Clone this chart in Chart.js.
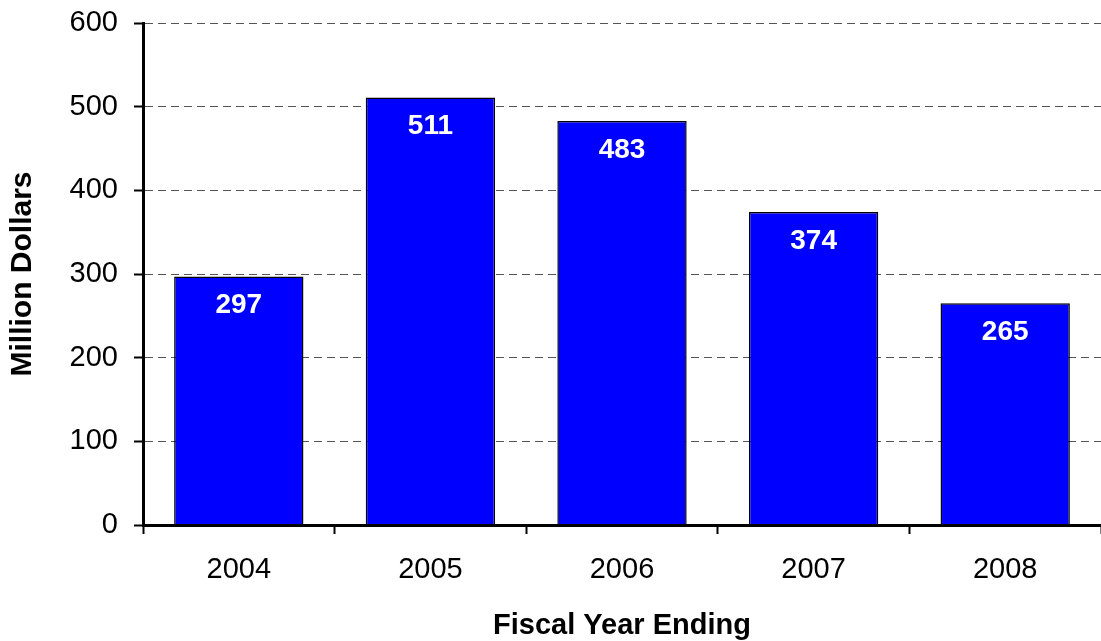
<!DOCTYPE html>
<html>
<head>
<meta charset="utf-8">
<script src="https://cdn.jsdelivr.net/npm/chart.js@4"></script>
<style>
  html, body { margin: 0; padding: 0; background: #fff; }
  #wrap { width: 1101px; height: 641px; }
</style>
</head>
<body>
<div id="wrap"><canvas id="grafico" width="1101" height="641"></canvas></div>
<script>
const years = ['2004', '2005', '2006', '2007', '2008'];
const millions = [297, 511, 483, 374, 265];
const yTicks = [0, 100, 200, 300, 400, 500, 600];

const fontFam = '"Liberation Sans", Arial, sans-serif';

// white bold value on top of each bar
const etiquetas = {
  id: 'etiquetas',
  afterDatasetsDraw(chart) {
    const ctx = chart.ctx;
    const meta = chart.getDatasetMeta(0);
    ctx.save();
    ctx.fillStyle = '#fff';
    ctx.font = 'bold 28px ' + fontFam;
    ctx.textAlign = 'center';
    ctx.textBaseline = 'middle';
    meta.data.forEach((bar, i) => {
      ctx.fillText(String(millions[i]), bar.x, bar.y + 29);
    });
    ctx.restore();
  }
};

const ctx = document.getElementById('grafico').getContext('2d');
new Chart(ctx, {
  type: 'bar',
  data: {
    labels: years,
    datasets: [{
      label: 'Million Dollars',
      data: millions,
      backgroundColor: '#0000ff',
      borderColor: '#000',
      borderWidth: 1.5,
      barPercentage: 0.675,
      categoryPercentage: 1
    }]
  },
  options: {
    responsive: false,
    animation: false,
    layout: { padding: { top: 23, right: 0, bottom: 0, left: 5 } },
    plugins: {
      legend: { display: false },
      tooltip: { enabled: false }
    },
    scales: {
      x: {
        afterFit(scale) { scale.height = 641 - 525; },
        grid: {
          display: true,
          drawOnChartArea: false,
          offset: true,
          tickLength: 9,
          tickColor: '#000',
          tickWidth: 2
        },
        border: { color: '#000', width: 3, z: 1 },
        ticks: {
          color: '#000',
          padding: 19,
          font: { family: fontFam, size: 29 }
        },
        title: {
          display: true,
          text: 'Fiscal Year Ending',
          color: '#000',
          padding: { top: 0, bottom: 1 },
          font: { family: fontFam, size: 29, weight: 'bold', lineHeight: 1.0 }
        }
      },
      y: {
        min: 0,
        max: 600,
        afterFit(scale) {
          scale.width = 143 - 5;
          scale.paddingTop = 0;
          scale.paddingBottom = 0;
        },
        afterBuildTicks(scale) { scale.ticks = yTicks.map(v => ({ value: v })); },
        grid: {
          color: '#555',
          lineWidth: 1,
          tickLength: 9,
          tickColor: '#000',
          tickWidth: 2,
          tickBorderDash: []
        },
        border: { color: '#000', width: 3, dash: [8, 5], z: 1 },
        ticks: {
          color: '#000',
          padding: 16,
          font: { family: fontFam, size: 29 }
        },
        title: {
          display: true,
          text: 'Million Dollars',
          color: '#000',
          padding: { top: 0, bottom: 0 },
          font: { family: fontFam, size: 30, weight: 'bold', lineHeight: 1.2 }
        }
      }
    }
  },
  plugins: [etiquetas]
});
</script>
</body>
</html>
